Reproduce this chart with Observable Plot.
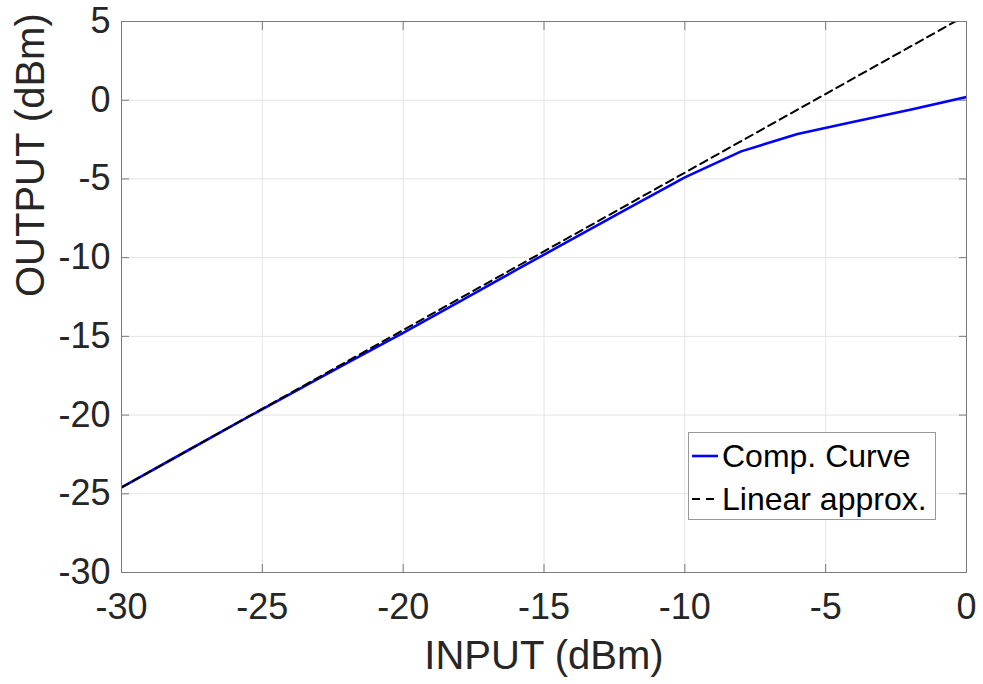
<!DOCTYPE html>
<html>
<head>
<meta charset="utf-8">
<script src="https://cdn.jsdelivr.net/npm/d3@7"></script>
<script src="https://cdn.jsdelivr.net/npm/@observablehq/plot@0.6"></script>
<style>
  body { margin: 0; background: #fff; }
  #wrap { position: relative; width: 983px; height: 684px; overflow: hidden; }
  .legend {
    position: absolute; left: 688px; top: 432px; width: 248px; height: 88px;
    box-sizing: border-box; border: 1px solid #9a9a9a; background: #fff;
    font-family: "Liberation Sans", Arial, sans-serif; font-size: 32px; color: #000;
    padding-top: 1px;
  }
  .row { display: flex; align-items: center; height: 43px; padding-left: 3px; }
  .row svg { flex: none; margin-right: 4px; }
  .row span { line-height: 1; white-space: nowrap; }
</style>
</head>
<body>
<div id="wrap"></div>
<script>
// ---- data ----
const inputDbm   = [-30, -28, -26, -24, -22, -20, -18, -16, -14, -12, -10, -8, -6, -4, -2, 0];
const compOutput = [-24.6, -22.6, -20.6, -18.65, -16.7, -14.78, -12.8, -10.8, -8.82, -6.85, -4.9, -3.25, -2.15, -1.37, -0.6, 0.2];
const linearInput  = [-30, 0];
const linearOutput = [-24.6, 5.4];
const xTicks = [-30, -25, -20, -15, -10, -5, 0];
const yTicks = [-30, -25, -20, -15, -10, -5, 0, 5];
const seriesNames = ["Comp. Curve", "Linear approx."];
const seriesColors = ["#0000ff", "#000000"];
const xLabel = "INPUT (dBm)";
const yLabel = "OUTPUT (dBm)";

const comp = inputDbm.map((x, i) => ({x, y: compOutput[i]}));
const lin = linearInput.map((x, i) => ({x, y: linearOutput[i]}));

const axisColor = "#7a7a7a";
const textColor = "#262626";
const fmt = d => String(d);

const chart = Plot.plot({
  width: 983, height: 684,
  marginLeft: 121, marginRight: 17, marginTop: 21, marginBottom: 112,
  style: {fontFamily: "'Liberation Sans', Arial, sans-serif", fontSize: "36px", color: textColor, background: "#fff", overflow: "visible"},
  x: {domain: [-30, 0], ticks: xTicks, label: null},
  y: {domain: [-30, 5], ticks: yTicks, label: null},
  marks: [
    Plot.gridX(xTicks, {stroke: "#e4e4e4", strokeOpacity: 1}),
    Plot.gridY(yTicks, {stroke: "#e4e4e4", strokeOpacity: 1}),
    Plot.line(comp, {x: "x", y: "y", stroke: seriesColors[0], strokeWidth: 2.6, clip: true}),
    Plot.line(lin, {x: "x", y: "y", stroke: seriesColors[1], strokeWidth: 2, strokeDasharray: "8,5", clip: true}),
    Plot.frame({stroke: axisColor, strokeWidth: 1}),
    Plot.axisX(xTicks, {anchor: "bottom", tickSize: -8, tickPadding: 29, stroke: axisColor, fill: textColor, fontSize: 36, tickFormat: fmt, label: null}),
    Plot.axisX(xTicks, {anchor: "top", tickSize: -8, stroke: axisColor, tickFormat: () => "", label: null}),
    Plot.axisY(yTicks, {anchor: "left", tickSize: -8, tickPadding: 19, stroke: axisColor, fill: textColor, fontSize: 36, tickFormat: fmt, label: null}),
    Plot.axisY(yTicks, {anchor: "right", tickSize: -8, stroke: axisColor, tickFormat: () => "", label: null}),
    Plot.text([xLabel], {text: d => d, frameAnchor: "bottom", dy: 84, fontSize: 40, lineAnchor: "middle", fill: textColor}),
    Plot.text([yLabel], {text: d => d, frameAnchor: "left", rotate: -90, dx: -90, fontSize: 40, lineAnchor: "middle", fill: textColor})
  ]
});

const wrap = document.getElementById("wrap");
wrap.appendChild(chart);

// legend overlay
const legend = document.createElement("div");
legend.className = "legend";
seriesNames.forEach((name, i) => {
  const row = document.createElement("div");
  row.className = "row";
  const dash = i === 1 ? 'stroke-dasharray="8,6"' : '';
  const sw = i === 1 ? 2 : 2.6;
  row.innerHTML = `<svg width="26" height="10"><line x1="0" y1="5" x2="26" y2="5" stroke="${seriesColors[i]}" stroke-width="${sw}" ${dash}/></svg><span>${name}</span>`;
  legend.appendChild(row);
});
wrap.appendChild(legend);
</script>
</body>
</html>
